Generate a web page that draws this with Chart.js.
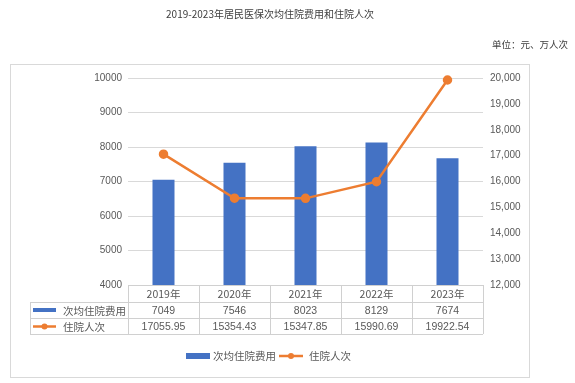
<!DOCTYPE html>
<html>
<head>
<meta charset="utf-8">
<script src="https://cdn.jsdelivr.net/npm/chart.js@4.4.1/dist/chart.umd.min.js"></script>
<style>
  html, body { margin:0; padding:0; background:#ffffff; }
  #wrap { position:relative; width:575px; height:383px; overflow:hidden; }
  #title { position:absolute; left:10px; width:520px; top:7px; text-align:center;
           font-family:"Noto Sans CJK SC","Noto Sans",sans-serif; font-size:10px; line-height:14px; color:#404040; }
  #unit { position:absolute; left:492px; top:37px; white-space:nowrap;
          font-family:"Noto Sans CJK SC","Noto Sans",sans-serif; font-size:9.5px; line-height:14px; color:#404040; }
  canvas { position:absolute; left:0; top:0; }
</style>
</head>
<body>
<div id="wrap">
  <canvas id="c" width="575" height="383"></canvas>
  <div id="title">2019-2023年居民医保次均住院费用和住院人次</div>
  <div id="unit">单位：元、万人次</div>
</div>
<script>
const categories = ['2019年', '2020年', '2021年', '2022年', '2023年'];
const costValues = [7049, 7546, 8023, 8129, 7674];
const visitValues = [17055.95, 15354.43, 15347.85, 15990.69, 19922.54];
const seriesNames = ['次均住院费用', '住院人次'];
const costTableLabels = ['7049', '7546', '8023', '8129', '7674'];
const visitTableLabels = ['17055.95', '15354.43', '15347.85', '15990.69', '19922.54'];

const BAR_COLOR = '#4472C4';
const LINE_COLOR = '#ED7D31';
const GRID = '#d9d9d9';
const TEXT = '#595959';
const CJK = '"Noto Sans CJK SC", sans-serif';
const NUM = '"Liberation Sans", Arial, sans-serif';

const tablePlugin = {
  id: 'tablePlugin',
  beforeDraw(chart) {
    const ctx = chart.ctx;
    ctx.save();
    ctx.strokeStyle = GRID;
    ctx.lineWidth = 1;
    ctx.strokeRect(10.5, 64.5, 519, 313);
    ctx.restore();
  },
  afterDraw(chart) {
    const ctx = chart.ctx;
    const area = chart.chartArea;
    const xs = chart.scales.x;
    const n = categories.length;
    const colW = (area.right - area.left) / n;
    const keyLeft = 30;
    const y0 = Math.round(area.bottom), y1 = y0 + 17, y2 = y1 + 16, y3 = y2 + 16;
    ctx.save();
    ctx.strokeStyle = '#d0d0d0';
    ctx.lineWidth = 1;
    ctx.beginPath();
    ctx.moveTo(area.left, y0 + 0.5); ctx.lineTo(area.right, y0 + 0.5);
    [y1, y2, y3].forEach(y => { ctx.moveTo(keyLeft, y + 0.5); ctx.lineTo(area.right, y + 0.5); });
    ctx.moveTo(keyLeft + 0.5, y1); ctx.lineTo(keyLeft + 0.5, y3);
    for (let i = 0; i <= n; i++) {
      const x = Math.round(area.left + i * colW) + 0.5;
      ctx.moveTo(x, y0); ctx.lineTo(x, y3);
    }
    ctx.stroke();

    ctx.textAlign = 'center';
    ctx.textBaseline = 'middle';
    ctx.fillStyle = TEXT;
    for (let i = 0; i < n; i++) {
      const cx = xs.getPixelForValue(i);
      ctx.font = '10.5px ' + CJK;
      ctx.fillText(categories[i], cx, (y0 + y1) / 2 + 1);
      ctx.font = '10.5px ' + NUM;
      ctx.fillText(costTableLabels[i], cx, (y1 + y2) / 2 + 1);
      ctx.fillText(visitTableLabels[i], cx, (y2 + y3) / 2 + 1);
    }
    // row keys
    const r2 = (y1 + y2) / 2, r3 = (y2 + y3) / 2;
    ctx.fillStyle = BAR_COLOR;
    ctx.fillRect(33, r2 - 2, 23, 4);
    ctx.strokeStyle = LINE_COLOR;
    ctx.lineWidth = 2.5;
    ctx.beginPath(); ctx.moveTo(33, r3 + 0.5); ctx.lineTo(56, r3 + 0.5); ctx.stroke();
    ctx.fillStyle = LINE_COLOR;
    ctx.beginPath(); ctx.arc(44.5, r3 + 0.5, 3, 0, Math.PI * 2); ctx.fill();
    ctx.textAlign = 'left';
    ctx.fillStyle = TEXT;
    ctx.font = '10.5px ' + CJK;
    ctx.fillText(seriesNames[0], 63, r2 + 1);
    ctx.fillText(seriesNames[1], 63, r3 + 1);

    // bottom legend
    const ly = 356;
    let lx = 186;
    ctx.fillStyle = BAR_COLOR;
    ctx.fillRect(lx, ly - 3, 24, 6);
    lx += 27;
    ctx.fillStyle = TEXT;
    ctx.fillText(seriesNames[0], lx, ly);
    lx += ctx.measureText(seriesNames[0]).width + 3;
    ctx.strokeStyle = LINE_COLOR;
    ctx.lineWidth = 2.5;
    ctx.beginPath(); ctx.moveTo(lx, ly); ctx.lineTo(lx + 24, ly); ctx.stroke();
    ctx.fillStyle = LINE_COLOR;
    ctx.beginPath(); ctx.arc(lx + 12, ly, 3, 0, Math.PI * 2); ctx.fill();
    lx += 30;
    ctx.fillStyle = TEXT;
    ctx.fillText(seriesNames[1], lx, ly);
    ctx.restore();
  }
};

new Chart(document.getElementById('c'), {
  data: {
    labels: categories,
    datasets: [
      {
        type: 'line', label: seriesNames[1], data: visitValues, yAxisID: 'y1', order: 0,
        borderColor: LINE_COLOR, backgroundColor: LINE_COLOR, borderWidth: 2.5,
        pointRadius: 3.5, pointBackgroundColor: LINE_COLOR, pointBorderColor: LINE_COLOR,
        tension: 0, clip: false
      },
      {
        type: 'bar', label: seriesNames[0], data: costValues, yAxisID: 'y', order: 1,
        backgroundColor: BAR_COLOR, categoryPercentage: 1, barPercentage: 0.31
      }
    ]
  },
  options: {
    responsive: false, devicePixelRatio: 1, animation: false,
    layout: { padding: { top: 78, bottom: 98, left: 0, right: 0 } },
    plugins: { legend: { display: false }, title: { display: false }, tooltip: { enabled: false } },
    scales: {
      x: { display: false, offset: true },
      y: {
        position: 'left', min: 4000, max: 10000,
        ticks: { stepSize: 1000, padding: 6, color: TEXT, font: { family: NUM, size: 10 },
                 callback: v => String(v) },
        grid: { color: GRID, drawTicks: false },
        border: { display: false },
        afterFit: s => { s.width = 128; }
      },
      y1: {
        position: 'right', min: 12000, max: 20000,
        ticks: { stepSize: 1000, padding: 7, color: TEXT, font: { family: NUM, size: 10 },
                 callback: v => v.toLocaleString('en-US') },
        grid: { display: false, drawTicks: false },
        border: { display: false },
        afterFit: s => { s.width = 92; }
      }
    }
  },
  plugins: [tablePlugin]
});
</script>
</body>
</html>
